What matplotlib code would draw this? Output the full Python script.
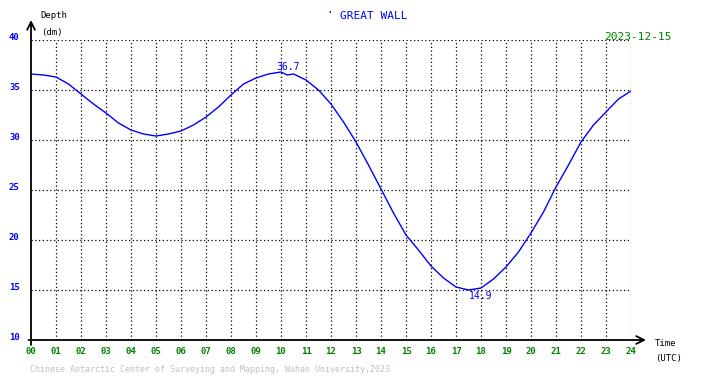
import matplotlib
matplotlib.use("Agg")
import matplotlib.pyplot as plt

# tide gauge readings, hand (hours UTC, depth in dm)
hours = [0, 0.5, 1, 1.5, 2, 2.5, 3, 3.5, 4, 4.5, 5, 5.5, 6, 6.5, 7, 7.5, 8,
         8.5, 9, 9.5, 10, 10.25, 10.5, 11, 11.5, 12, 12.5, 13, 13.5, 14,
         14.5, 15, 15.5, 16, 16.5, 17, 17.5, 18, 18.5, 19, 19.5, 20, 20.5,
         21, 21.5, 22, 22.5, 23, 23.5, 24]
depth = [36.6, 36.5, 36.3, 35.6, 34.6, 33.6, 32.7, 31.7, 31.0, 30.6, 30.4,
         30.6, 30.9, 31.5, 32.3, 33.3, 34.5, 35.6, 36.2, 36.6, 36.8, 36.5,
         36.6, 36.0, 35.0, 33.6, 31.8, 29.8, 27.5, 25.1, 22.7, 20.5, 19.0,
         17.4, 16.2, 15.3, 15.0, 15.2, 16.1, 17.3, 18.8, 20.7, 22.8, 25.3,
         27.5, 29.8, 31.5, 32.8, 34.1, 34.9]
x_ticks = list(range(0, 25))
x_labels = ["%02d" % h for h in x_ticks]
y_ticks = [10, 15, 20, 25, 30, 35, 40]
max_label = "36.7"
min_label = "14.9"

mono = "DejaVu Sans Mono"
fig = plt.figure(figsize=(7.1, 3.78), dpi=100)
ax = fig.add_axes([31 / 710, 38 / 378, 600 / 710, 300 / 378])
ax.set_xlim(0, 24)
ax.set_ylim(10, 40)

ax.plot(hours, depth, color="#0000ff", lw=1.0, zorder=3)

# dotted grid
for h in x_ticks[1:]:
    ax.axvline(h, color="black", ls=(0, (1, 2)), lw=0.9, zorder=1)
for d in y_ticks[1:]:
    ax.axhline(d, color="black", ls=(0, (1, 2)), lw=0.9, zorder=1)

for s in ["top", "right", "left", "bottom"]:
    ax.spines[s].set_visible(False)
ax.set_xticks([])
ax.set_yticks([])

# axes with arrows
ax.annotate("", xy=(0, 42), xytext=(0, 9.5), annotation_clip=False,
            arrowprops=dict(arrowstyle="->", color="black", lw=1.3,
                            mutation_scale=14, shrinkA=0, shrinkB=0))
ax.annotate("", xy=(24.6, 10), xytext=(-0.1, 10), annotation_clip=False,
            arrowprops=dict(arrowstyle="->", color="black", lw=1.3,
                            mutation_scale=14, shrinkA=0, shrinkB=0))

for d in y_ticks:
    ax.text(-0.45, d + 0.2, str(d), color="#0000ff", fontsize=6.5,
            family=mono, fontweight="bold", ha="right", va="center")
for h, lab in zip(x_ticks, x_labels):
    ax.text(h, 8.8, lab, color="green", fontsize=6.5, family=mono,
            fontweight="bold", ha="center", va="center")

ax.text(10.3, 36.8, max_label, color="#0000ff", fontsize=7, family=mono,
        ha="center", va="bottom")
ax.text(18.0, 14.9, min_label, color="#0000ff", fontsize=7, family=mono,
        ha="center", va="top")

fig.text(40 / 710, 1 - 16 / 378, "Depth", fontsize=6.5, family=mono,
         ha="left", va="center")
fig.text(41 / 710, 1 - 33 / 378, "(dm)", fontsize=6.5, family=mono,
         ha="left", va="center")
fig.text(655 / 710, 1 - 344 / 378, "Time", fontsize=6.5, family=mono,
         ha="left", va="center")
fig.text(655 / 710, 1 - 358 / 378, "(UTC)", fontsize=6.5, family=mono,
         ha="left", va="center")
fig.text(330 / 710, 1 - 13 / 378, "\u00b7", color="#0000ff", fontsize=8,
         family=mono, ha="center", va="center")
fig.text(340 / 710, 1 - 16 / 378, "GREAT WALL", color="#0000ff", fontsize=8,
         family=mono, ha="left", va="center")
fig.text(672 / 710, 1 - 37 / 378, "2023-12-15", color="green", fontsize=8,
         family=mono, ha="right", va="center")
fig.text(30 / 710, 1 - 370 / 378,
         "Chinese Antarctic Center of Surveying and Mapping, Wuhan University,2023",
         color="#c0c0c0", fontsize=6.0, family=mono, ha="left", va="center")

fig.savefig("out.png", dpi=100)
